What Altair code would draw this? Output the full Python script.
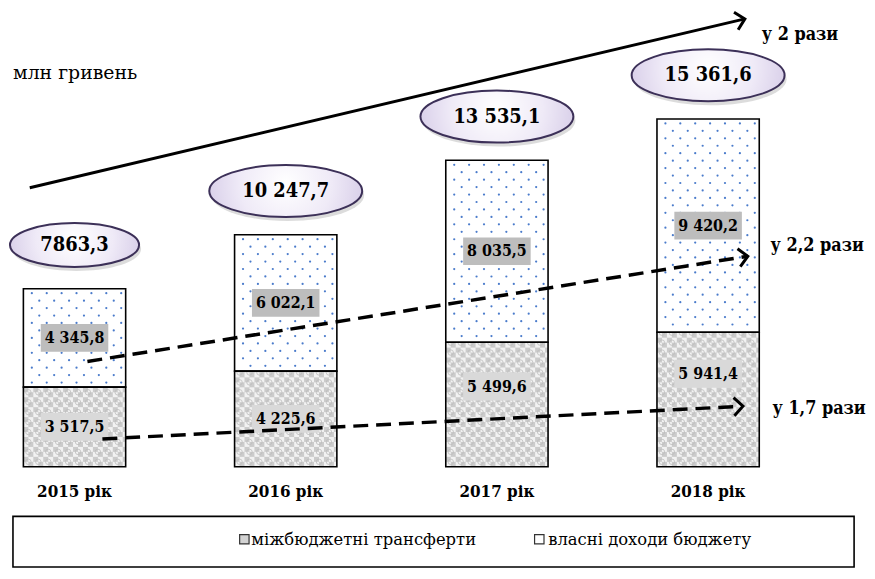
import math
import altair as alt
import pandas as pd

# ---------------- data ----------------
YEARS = ["2015 рік", "2016 рік", "2017 рік", "2018 рік"]
OWN = [3517.5, 4225.6, 5499.6, 5941.4]            # власні доходи бюджету
TRANSFERS = [4345.8, 6022.1, 8035.5, 9420.2]      # міжбюджетні трансферти
TOTAL_LABELS = ["7863,3", "10 247,7", "13 535,1", "15 361,6"]
OWN_LABELS = ["3 517,5", "4 225,6", "5 499,6", "5 941,4"]
TRANSFER_LABELS = ["4 345,8", "6 022,1", "8 035,5", "9 420,2"]
GROWTH_LABELS = ["у 2 рази", "у 2,2 рази", "у 1,7 рази"]
UNIT = "млн гривень"
LEGEND = ["міжбюджетні трансферти", "власні доходи бюджету"]

# annotation arrows (data units: category index, млн грн)
ARROW_START_X = [-0.212, 0.061, 0.132]
ARROW_START_Y = [12325, 4649, 1228]
ARROW_END_X = [3.174, 3.188, 3.165]
ARROW_END_Y = [19781, 9298, 2675]
ARROW_DASHED = [False, True, True]
GROWTH_X = [3.254, 3.296, 3.305]
GROWTH_Y = [19079, 9737, 2544]

# ---------------- layout / style ----------------
W, H = 865, 563
PXX = 212.67          # px per category step
PXY = 0.0228          # px per million
X0 = -0.315
ZERO_PX = 460
X_DOM = [X0, X0 + W / PXX]
Y_DOM = [-(H - ZERO_PX) / PXY, ZERO_PX / PXY]
BAR_W_PX = 103
HALF = BAR_W_PX / 2 / PXX
OWN_LABEL_SHIFT_PX = [0, 0, 18, 26]
FONT_B = "DejaVu Serif Condensed, DejaVu Serif"   # bold texts
FONT_R = "DejaVu Serif"                           # regular texts
ELLIPSE_OFFSET = -44


def X(f):
    return alt.X(f, type="quantitative", axis=None,
                 scale=alt.Scale(domain=X_DOM, nice=False, zero=False))


def Y(f):
    return alt.Y(f, type="quantitative", axis=None,
                 scale=alt.Scale(domain=Y_DOM, nice=False, zero=False))


# ---------------- tables ----------------
seg_rows = []
for i in range(4):
    seg_rows.append(dict(kind="own", x0=i - HALF, x1=i + HALF, y0=0, y1=OWN[i]))
    seg_rows.append(dict(kind="tr", x0=i - HALF, x1=i + HALF, y0=OWN[i], y1=OWN[i] + TRANSFERS[i]))
segs = pd.DataFrame(seg_rows)

# pattern textures derived from the segment extents
dots, checks, rings = [], [], []
for i in range(4):
    left = i - HALF
    top_v = OWN[i] + TRANSFERS[i]
    h_tr = TRANSFERS[i] * PXY
    r = 0
    py = 4.5
    while py < h_tr - 2:
        px = 8.5 + (7.5 if r % 2 else 0)
        while px < BAR_W_PX - 2:
            dots.append(dict(x=left + px / PXX, y=top_v - py / PXY))
            px += 15
        py += 7.5
        r += 1
    h_own = OWN[i] * PXY
    cy = 0
    while cy * 5 + 2.5 < h_own:
        cx = 0
        while cx * 5 + 2.5 < BAR_W_PX:
            if (cx + cy) % 2 == 0:
                checks.append(dict(x=left + (cx * 5 + 2.5) / PXX, y=(cy * 5 + 2.5) / PXY))
            cx += 1
        cy += 1
    cy = 0
    while cy * 10 + 5 < h_own:
        cx = 0
        while cx * 10 + 5 < BAR_W_PX:
            rings.append(dict(x=left + (cx * 10 + 5) / PXX, y=(cy * 10 + 5) / PXY))
            cx += 1
        cy += 1
dots = pd.DataFrame(dots)
checks = pd.DataFrame(checks)
rings = pd.DataFrame(rings)

labels_tr = pd.DataFrame(dict(x=list(range(4)),
                              y=[OWN[i] + TRANSFERS[i] / 2 for i in range(4)],
                              t=TRANSFER_LABELS))
labels_own = pd.DataFrame(dict(x=list(range(4)),
                               y=[OWN[i] / 2 + OWN_LABEL_SHIFT_PX[i] / PXY for i in range(4)],
                               t=OWN_LABELS))
totals = pd.DataFrame(dict(x=list(range(4)),
                           y=[OWN[i] + TRANSFERS[i] for i in range(4)],
                           t=TOTAL_LABELS,
                           esize=[(12 * len(s) + 58) ** 2 for s in TOTAL_LABELS]))
years = pd.DataFrame(dict(x=list(range(4)), t=YEARS))

arrows = pd.DataFrame(dict(x=ARROW_START_X, y=ARROW_START_Y, x2=ARROW_END_X, y2=ARROW_END_Y,
                           dashed=ARROW_DASHED))
arrows["ang"] = [
    math.degrees(math.atan2(-(arrows.y2[k] - arrows.y[k]) * PXY, (arrows.x2[k] - arrows.x[k]) * PXX)) % 360
    for k in range(len(arrows))
]
growth = pd.DataFrame(dict(x=GROWTH_X, y=GROWTH_Y, t=GROWTH_LABELS))

# ---------------- marks ----------------
ELLIPSE = "M-1,0 A1,0.34 0 1,1 1,0 A1,0.34 0 1,1 -1,0 Z"
BOX = "M-1,-0.41 L1,-0.41 L1,0.41 L-1,0.41 Z"
CHEVRON = "M-1,-1 L0,0 L-1,1"

own_rect = alt.Chart(segs[segs.kind == "own"]).mark_rect(fill="#cbcbcb").encode(
    x=X("x0"), x2="x1", y=Y("y0"), y2="y1")
own_checks = alt.Chart(checks).mark_point(shape="square", filled=True, fill="white",
                                          opacity=0.75, size=25, strokeWidth=0).encode(
    x=X("x"), y=Y("y"))
own_rings = alt.Chart(rings).mark_point(shape="circle", filled=False, stroke="#bdbdbd",
                                        opacity=0.8, size=30, strokeWidth=1).encode(
    x=X("x"), y=Y("y"))
tr_rect = alt.Chart(segs[segs.kind == "tr"]).mark_rect(fill="white").encode(
    x=X("x0"), x2="x1", y=Y("y0"), y2="y1")
tr_dots = alt.Chart(dots).mark_point(shape="circle", filled=True, fill="#4a7bcb",
                                     opacity=1, size=5, strokeWidth=0).encode(
    x=X("x"), y=Y("y"))
outline = alt.Chart(segs).mark_rect(fill="white", fillOpacity=0, stroke="black",
                                    strokeWidth=1.6).encode(
    x=X("x0"), x2="x1", y=Y("y0"), y2="y1")

box_tr = alt.Chart(labels_tr).mark_point(shape=BOX, filled=True, fill="#bdbdbd", opacity=1,
                                         size=68 ** 2, strokeWidth=0).encode(x=X("x"), y=Y("y"))
box_own = alt.Chart(labels_own).mark_point(shape=BOX, filled=True, fill="#d9d9d9", opacity=1,
                                           size=68 ** 2, strokeWidth=0).encode(x=X("x"), y=Y("y"))
txt_tr = alt.Chart(labels_tr).mark_text(font=FONT_B, fontSize=16, fontWeight="bold",
                                        color="black").encode(x=X("x"), y=Y("y"), text="t:N")
txt_own = alt.Chart(labels_own).mark_text(font=FONT_B, fontSize=16, fontWeight="bold",
                                          color="black").encode(x=X("x"), y=Y("y"), text="t:N")

solid_line = alt.Chart(arrows[~arrows.dashed]).mark_rule(color="black", strokeWidth=3).encode(
    x=X("x"), y=Y("y"), x2="x2", y2="y2")
dashed_line = alt.Chart(arrows[arrows.dashed]).mark_rule(color="black", strokeWidth=3.5,
                                                         strokeDash=[15, 8]).encode(
    x=X("x"), y=Y("y"), x2="x2", y2="y2")
heads = alt.Chart(arrows).mark_point(shape=CHEVRON, filled=False, stroke="black", strokeWidth=3,
                                     size=330, opacity=1).encode(
    x=X("x2"), y=Y("y2"), angle=alt.Angle("ang:Q", scale=None))

GRAD = {"gradient": "radial", "x1": 0.5, "y1": 0.45, "r1": 0.0, "x2": 0.5, "y2": 0.45, "r2": 0.6,
        "stops": [{"offset": 0, "color": "#ffffff"}, {"offset": 0.5, "color": "#efeaf7"},
                  {"offset": 1, "color": "#d0c5e4"}]}
shadow = alt.Chart(totals).mark_point(shape=ELLIPSE, filled=True, fill="#808080", opacity=0.28,
                                      strokeWidth=0, yOffset=ELLIPSE_OFFSET + 4, xOffset=2).encode(
    x=X("x"), y=Y("y"), size=alt.Size("esize:Q", scale=None))
ellipse = alt.Chart(totals).mark_point(shape=ELLIPSE, filled=True, fill=GRAD, opacity=1,
                                       stroke="#3c3058", strokeWidth=2, strokeOpacity=1,
                                       yOffset=ELLIPSE_OFFSET).encode(
    x=X("x"), y=Y("y"), size=alt.Size("esize:Q", scale=None))
ellipse_txt = alt.Chart(totals).mark_text(font=FONT_B, fontSize=20, fontWeight="bold", color="black",
                                          dy=ELLIPSE_OFFSET).encode(x=X("x"), y=Y("y"), text="t:N")

year_txt = alt.Chart(years).mark_text(font=FONT_B, fontSize=17, fontWeight="bold", color="black").encode(
    x=X("x"), y=alt.value(485), text="t:N")
growth_txt = alt.Chart(growth).mark_text(font=FONT_B, fontSize=18, fontWeight="bold", color="black",
                                         align="left").encode(x=X("x"), y=Y("y"), text="t:N")
unit_txt = alt.Chart(pd.DataFrame({"t": [UNIT]})).mark_text(
    font=FONT_R, fontSize=19, color="black", align="left").encode(
    x=alt.value(5), y=alt.value(64), text="t:N")

legend_box = alt.Chart(pd.DataFrame({"a": [0]})).mark_rect(
    fill="white", stroke="black", strokeWidth=1.6).encode(
    x=alt.value(5), x2=alt.value(852), y=alt.value(510), y2=alt.value(561))
leg_sym1 = alt.Chart(pd.DataFrame({"a": [0]})).mark_point(
    shape="square", filled=True, fill="#d3d3d3", stroke="#333333", strokeWidth=1.2,
    opacity=1, size=90).encode(x=alt.value(238), y=alt.value(533))
leg_sym2 = alt.Chart(pd.DataFrame({"a": [0]})).mark_point(
    shape="square", filled=True, fill="white", stroke="#333333", strokeWidth=1.2,
    opacity=1, size=90).encode(x=alt.value(535), y=alt.value(533))
leg_t1 = alt.Chart(pd.DataFrame({"t": [LEGEND[0]]})).mark_text(
    font=FONT_R, fontSize=16.5, color="black", align="left").encode(
    x=alt.value(245), y=alt.value(534), text="t:N")
leg_t2 = alt.Chart(pd.DataFrame({"t": [LEGEND[1]]})).mark_text(
    font=FONT_R, fontSize=16.5, color="black", align="left").encode(
    x=alt.value(544), y=alt.value(534), text="t:N")

chart = alt.layer(
    own_rect, own_checks, own_rings, tr_rect, tr_dots, outline,
    box_tr, box_own, txt_tr, txt_own,
    solid_line, dashed_line, heads,
    shadow, ellipse, ellipse_txt,
    year_txt, growth_txt, unit_txt,
    legend_box, leg_sym1, leg_sym2, leg_t1, leg_t2,
).properties(
    width=W, height=H, padding=0, background="white",
    autosize=alt.AutoSizeParams(type="none"),
).configure_view(strokeWidth=0, stroke="transparent")

chart.save("out.html", embed_options={"renderer": "svg", "actions": False})
